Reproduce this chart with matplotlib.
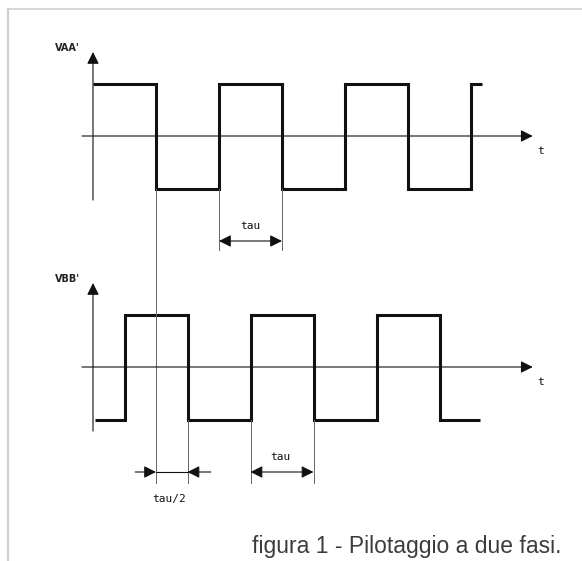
import matplotlib
matplotlib.use("Agg")
from matplotlib import pyplot as plt
from matplotlib.lines import Line2D

# tempi in unita' di tau (mezzo periodo), livelli +1 / -1
vaa_edges = [0.0, 1.0, 2.0, 3.0, 4.0, 5.0, 6.0, 6.17]
vaa_levels = [1, -1, 1, -1, 1, -1, 1]
vbb_edges = [0.03, 0.5, 1.5, 2.5, 3.5, 4.5, 5.5, 6.15]
vbb_levels = [-1, 1, -1, 1, -1, 1, -1]

labels_y = ["VAA'", "VBB'"]
label_t = "t"
caption = "figura 1 - Pilotaggio a due fasi."

# layout (pixel della figura)
W, H = 582, 561
X0, TAU_PX = 93, 63
Y_TOP, Y_BOT, AMP_PX = 136, 367, 52.5
OFF = -(Y_BOT - Y_TOP) / AMP_PX

fig = plt.figure(figsize=(W / 100, H / 100), dpi=100)
ax = fig.add_axes([0, 0, 1, 1])
ax.set_xlim(-X0 / TAU_PX, (W - X0) / TAU_PX)
ax.set_ylim((Y_TOP - H) / AMP_PX, Y_TOP / AMP_PX)
ax.axis("off")

ext = dict(color="#666666", lw=0.7)
mono = dict(family="DejaVu Sans Mono", fontsize=8, color="#111111")


def arrow(x1, y1, x2, y2, style="-|>"):
    ax.annotate("", xy=(x2, y2), xytext=(x1, y1),
                arrowprops=dict(arrowstyle=style + ",head_length=0.6,head_width=0.3",
                                mutation_scale=12, lw=0.8, color="#111111",
                                shrinkA=0, shrinkB=0))


for off, edges, levels, lab in [(0, vaa_edges, vaa_levels, labels_y[0]),
                                (OFF, vbb_edges, vbb_levels, labels_y[1])]:
    # assi
    arrow(0, off - 1.22, 0, off + 1.6)
    arrow(-0.175, off, 6.98, off)
    ax.text(7.05, off - 0.29, label_t, ha="left", va="center", **mono)
    ax.text(-0.40, off + 1.68, lab, ha="center", va="center",
            family="DejaVu Sans", fontsize=7, fontweight="bold", color="#222222")
    # forma d'onda
    ax.stairs([off + v for v in levels], edges, baseline=None,
              color="#111111", lw=2.2)

# linee di riferimento
ax.plot([1, 1], [-1, OFF - 2.21], **ext)
for t in [2, 3]:
    ax.plot([t, t], [-1, -2.17], **ext)
for t in [1.5, 2.5, 3.5]:
    ax.plot([t, t], [OFF - 1, OFF - 2.21], **ext)

# quote tau
arrow(2, -2.0, 3, -2.0, "<|-|>")
ax.text(2.5, -1.71, "tau", ha="center", va="center", **mono)
arrow(2.5, OFF - 2.0, 3.5, OFF - 2.0, "<|-|>")
ax.text(2.98, OFF - 1.71, "tau", ha="center", va="center", **mono)

# quota tau/2
arrow(0.67, OFF - 2.0, 1.0, OFF - 2.0)
arrow(1.87, OFF - 2.0, 1.5, OFF - 2.0)
ax.plot([1.0, 1.5], [OFF - 2.0, OFF - 2.0], color="#111111", lw=0.8)
ax.text(1.21, OFF - 2.51, "tau/2", ha="center", va="center", **mono)

# cornice chiara
fig.add_artist(Line2D([8 / W, 1], [1 - 9 / H, 1 - 9 / H], color="#cfcfcf", lw=1.2))
fig.add_artist(Line2D([8 / W, 8 / W], [0, 1 - 9 / H], color="#cfcfcf", lw=1.5))

fig.text(562 / W, 1 - 546 / H, caption, ha="right", va="center",
         family="Liberation Sans", fontsize=16.5, color="#3c3c3c")

fig.savefig("out.png", dpi=100)
